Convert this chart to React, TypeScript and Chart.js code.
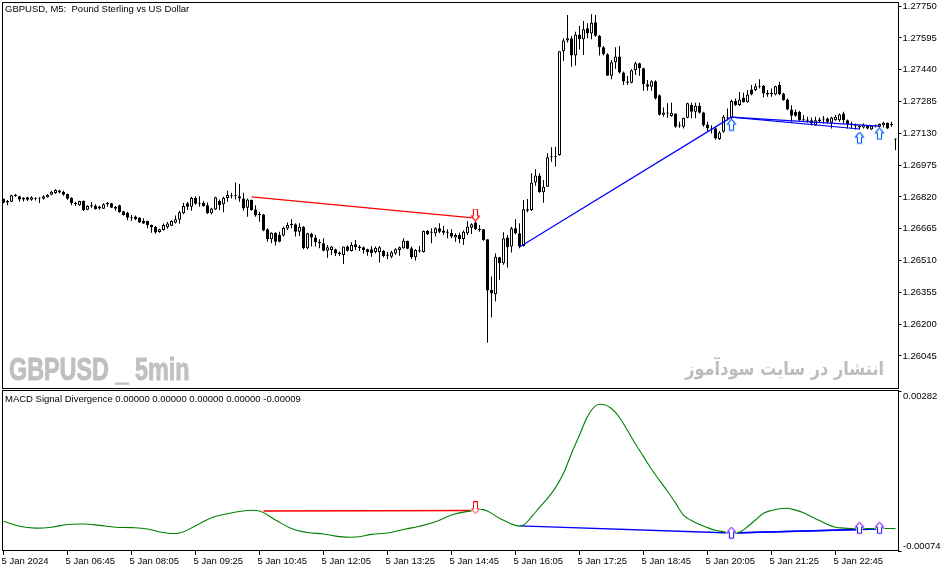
import React, { useEffect, useRef } from "react";
import { Chart, registerables } from "chart.js";

Chart.register(...registerables);

// Prices are quoted in points (1 point = 0.00001)
const opens = [
126811,126800,126797,126823,126823,126815,126818,126806,126815,126815,
126811,126819,126831,126839,126852,126845,126834,126815,126792,126779,
126802,126758,126780,126777,126774,126763,126790,126789,126772,126779,
126750,126743,126724,126725,126719,126704,126703,126683,126675,126649,
126659,126672,126680,126694,126709,126740,126789,126772,126815,126789,
126792,126780,126740,126759,126800,126784,126815,126824,126826,126824,
126813,126767,126805,126759,126733,126735,126662,126614,126646,126635,
126632,126666,126687,126687,126651,126675,126570,126640,126622,126602,
126594,126558,126562,126565,126549,126537,126578,126557,126589,126578,
126575,126565,126565,126552,126552,126557,126539,126529,126545,126562,
126570,126606,126570,126526,126560,126552,126654,126648,126643,126667,
126656,126651,126646,126623,126635,126615,126643,126670,126695,126662,126662,
126614,126367,126346,126526,126497,126623,126578,126667,126643,
126581,126760,126757,126891,126924,126843,126870,127016,127016,127025,
127530,127582,127593,127509,127612,127588,127642,127617,127671,127606,
127549,127515,127411,127476,127504,127427,127383,127377,127439,127471,127447,
127369,127357,127384,127316,127220,127232,127215,127227,127170,
127162,127206,127268,127235,127264,127232,127173,127154,127154,127102,
127138,127206,127206,127287,127268,127303,127282,127344,127341,127362,
127362,127328,127328,127319,127365,127324,127295,127246,127235,127235,
127199,127198,127194,127170,127198,127202,127202,127181,127194,127194,
127227,127194,127178,127170,127159,127159,127167,127149,127168,127162,
127170,127181,127175,127105,
];
const closes = [
126792,126793,126828,126831,126808,126808,126806,126818,126811,126813,
126824,126831,126845,126854,126842,126831,126811,126789,126785,126800,
126756,126777,126774,126761,126764,126785,126784,126767,126763,126746,
126732,126719,126719,126712,126696,126691,126683,126672,126647,126662,
126683,126691,126703,126711,126745,126776,126772,126815,126787,126787,
126776,126740,126764,126818,126780,126816,126829,126828,126824,126813,
126764,126808,126756,126729,126732,126656,126614,126646,126602,126602,
126670,126683,126683,126651,126675,126571,126643,126623,126599,126594,
126558,126575,126578,126545,126542,126578,126558,126586,126575,126570,
126562,126552,126547,126573,126575,126532,126534,126550,126565,126575,
126606,126568,126526,126562,126554,126654,126638,126645,126667,126651,
126646,126646,126627,126635,126615,126651,126675,126687,126662,126659,126610,
126364,126349,126529,126497,126619,126575,126667,126643,126578,
126760,126753,126891,126924,126843,126870,127013,127013,127013,127530,
127582,127593,127509,127612,127588,127637,127617,127669,127606,127549,
127515,127411,127476,127504,127427,127382,127377,127437,127471,127447,127369,
127357,127384,127300,127220,127232,127227,127230,127162,127165,
127206,127276,127235,127264,127230,127170,127154,127149,127105,127134,
127211,127204,127287,127268,127295,127282,127319,127319,127360,127357,
127324,127319,127321,127360,127321,127292,127246,127216,127216,127194,
127194,127191,127178,127194,127190,127198,127186,127207,127211,127222,
127194,127175,127170,127165,127167,127173,127154,127167,127165,127175,
127181,127154,127170,127100,
];
const highs = [
126813,126805,126831,126834,126826,126818,126821,126823,126818,126818,
126828,126834,126850,126858,126855,126850,126837,126818,126797,126802,
126803,126780,126795,126784,126777,126789,126795,126792,126776,126782,
126753,126748,126732,126729,126722,126716,126704,126686,126678,126665,
126691,126698,126706,126730,126753,126792,126795,126821,126824,126824,
126800,126793,126767,126821,126808,126821,126850,126841,126891,126883,
126841,126813,126808,126780,126748,126737,126667,126648,126648,126651,
126675,126695,126711,126692,126692,126679,126646,126646,126635,126614,
126619,126586,126581,126568,126554,126578,126583,126599,126610,126586,
126578,126567,126581,126578,126581,126562,126552,126558,126570,126578,
126619,126607,126578,126565,126581,126656,126659,126667,126672,126692,
126679,126662,126662,126643,126646,126656,126703,126692,126700,126683,126664,
126614,126432,126545,126529,126648,126635,126675,126711,126692,
126805,126810,126935,126955,126935,126903,127033,127062,127065,127530,
127593,127707,127604,127625,127653,127677,127666,127710,127707,127609,
127556,127520,127487,127549,127556,127431,127409,127442,127479,127474,127450,
127390,127389,127389,127319,127256,127276,127280,127227,127186,
127206,127279,127279,127279,127279,127235,127186,127170,127162,127141,
127219,127251,127295,127300,127332,127328,127341,127365,127373,127393,
127365,127341,127349,127362,127381,127328,127300,127267,127246,127240,
127219,127211,127207,127211,127207,127214,127207,127211,127219,127227,
127235,127198,127186,127178,127170,127178,127170,127170,127173,127178,
127186,127183,127186,127105,
];
const lows = [
126789,126780,126795,126821,126797,126798,126800,126802,126803,126790,
126808,126816,126828,126836,126837,126826,126806,126780,126776,126777,
126751,126756,126767,126758,126758,126761,126772,126766,126753,126743,
126729,126707,126704,126707,126693,126688,126667,126646,126641,126646,
126655,126665,126678,126691,126690,126737,126757,126753,126782,126772,
126772,126737,126735,126756,126756,126745,126797,126813,126808,126797,
126753,126724,126753,126724,126699,126653,126602,126594,126583,126599,
126627,126659,126667,126627,126630,126565,126565,126578,126578,126570,
126555,126524,126537,126532,126532,126493,126554,126554,126562,126557,
126545,126534,126529,126545,126500,126526,126516,126521,126537,126534,
126567,126565,126518,126510,126549,126549,126635,126594,126627,126643,
126635,126619,126619,126602,126594,126586,126635,126640,126659,126651,126606,
126110,126232,126310,126416,126489,126476,126549,126638,126570,
126578,126745,126752,126875,126841,126792,126870,126992,126968,127021,
127484,127573,127455,127460,127539,127512,127593,127588,127601,127509,
127509,127411,127393,127445,127422,127366,127366,127374,127414,127411,127338,
127337,127337,127295,127217,127211,127206,127211,127157,127157,
127154,127203,127203,127203,127227,127162,127138,127129,127100,127097,
127133,127194,127194,127263,127263,127279,127279,127316,127336,127349,
127305,127308,127308,127316,127316,127289,127243,127186,127211,127191,
127186,127181,127170,127167,127181,127178,127178,127154,127191,127186,
127178,127154,127154,127149,127149,127154,127149,127146,127159,127159,
127159,127151,127162,127048,
];

// MACD main line, in points, read at these bars
const macdBars = [0,4,8,12,16,20,24,28,32,36,40,44,48,52,56,60,64,68,72,76,80,84,88,92,96,100,104,108,112,116,120,124,128,130,132,134,136,138,140,142,144,146,148,150,152,154,156,158,160,162,164,166,168,170,172,174,176,178,180,182,184,186,188,190,192,194,196,198,200,202,204,206,208,210,212,216,220,223];
const macdValues = [-8,-19,-23,-21,-15,-14,-17,-21,-22,-25,-33,-34,-18,0,9,15,15,-5,-24,-33,-36,-42,-43,-37,-34,-26,-19,-9,6,14,18,-1,-17,-16,2,23,43,67,99,143,184,225,249,252,243,223,194,164,136,108,83,59,33,6,-6,-15,-22,-28,-31,-35,-32,-20,-5,10,16,20,21,17,11,2,-6,-15,-21,-23,-24,-24,-24,-24];

const priceTicks = [1.2775,1.27595,1.2744,1.27285,1.2713,1.26975,1.2682,1.26665,1.2651,1.26355,1.262,1.26045];
const macdTicks = [0.00282,-0.00074];
const tickLabels = ["5 Jan 2024","5 Jan 06:45","5 Jan 08:05","5 Jan 09:25","5 Jan 10:45","5 Jan 12:05","5 Jan 13:25","5 Jan 14:45","5 Jan 16:05","5 Jan 17:25","5 Jan 18:45","5 Jan 20:05","5 Jan 21:25","5 Jan 22:45"];

const titleTop = "GBPUSD, M5:  Pound Sterling vs US Dollar";
const titleBottom = "MACD Signal Divergence 0.00000 0.00000 0.00000 0.00000 -0.00009";
const watermarkLeft = "GBPUSD _ 5min";
const watermarkRight = "انتشار در سایت سودآموز";

// [bar, value in points] pairs of each divergence segment
const redPriceLine = [[62,126820],[118,126717]];
const bluePriceLines = [[[129,126576],[182,127209]],[[182,127209],[214,127151]],[[182,127209],[219,127165]]];
const redMacdLine = [[65,15],[118,16]];
const blueMacdLines = [[[129,-18],[182,-34]],[[182,-34],[214,-26]],[[182,-34],[219,-25]]];
const priceDownArrows = [[118,126732]];
const priceUpArrows = [[182,127170],[214,127107],[219,127127]];
const macdDownArrows = [[118,22]];
const macdUpArrows = [[182,-34],[214,-23],[219,-23]];

const categories = opens.map((_, i) => {
  if (i === 0) return "5 Jan 2024";
  const m = 5 * 60 + 25 + i * 5;
  return `5 Jan ${String(Math.floor(m / 60)).padStart(2, "0")}:${String(m % 60).padStart(2, "0")}`;
});

const AXIS_FONT = { family: "Liberation Sans", size: 9.5 };
const INK = "#000000";
const toPrice = (p: number) => p / 1e5;

function makeArrow(up: boolean, stroke: string, head: string, glow: string) {
  const c = document.createElement("canvas");
  c.width = 11;
  c.height = 13;
  const g = c.getContext("2d")!;
  g.translate(0.5, 0.5);
  const shape = () => {
    g.beginPath();
    if (up) {
      g.moveTo(5, 0); g.lineTo(9, 5); g.lineTo(7, 5); g.lineTo(7, 11); g.lineTo(3, 11); g.lineTo(3, 5); g.lineTo(1, 5);
    } else {
      g.moveTo(3, 0); g.lineTo(7, 0); g.lineTo(7, 7); g.lineTo(9, 7); g.lineTo(5, 12); g.lineTo(1, 7); g.lineTo(3, 7);
    }
    g.closePath();
  };
  g.lineWidth = 2.4;
  g.strokeStyle = glow;
  shape();
  g.stroke();
  g.fillStyle = "#ffffff";
  shape();
  g.fill();
  g.lineWidth = 1;
  g.strokeStyle = stroke;
  shape();
  g.stroke();
  g.strokeStyle = head;
  g.beginPath();
  if (up) {
    g.moveTo(1, 5); g.lineTo(5, 0); g.lineTo(9, 5);
  } else {
    g.moveTo(1, 7); g.lineTo(5, 12); g.lineTo(9, 7);
  }
  g.stroke();
  return c;
}

const segment = (pts: number[][], scale: number, color: string, width: number) => ({
  type: "line" as const,
  data: pts.map(([b, v]) => ({ x: categories[b], y: v / scale })),
  borderColor: color,
  borderWidth: width,
  pointRadius: 0,
  tension: 0,
  order: 2,
  clip: false,
});

const arrows = (pts: number[][], scale: number, icon: HTMLCanvasElement) => ({
  type: "line" as const,
  data: pts.map(([b, v]) => ({ x: categories[b], y: v / scale })),
  showLine: false,
  pointStyle: icon,
  pointRadius: 6,
  order: 1,
  clip: false,
});

function xScale(show: boolean) {
  return {
    type: "category" as const,
    offset: true,
    display: show,
    afterBuildTicks: (s: any) => {
      s.ticks = s.ticks.filter((t: any) => t.value % 16 === 0);
    },
    afterFit: (s: any) => {
      if (show) s.height = 21;
      s.paddingLeft = 0;
      s.paddingRight = 0;
    },
    border: { display: false },
    grid: { drawOnChartArea: false, offset: false, tickLength: 4, tickColor: INK, lineWidth: 1 },
    ticks: {
      autoSkip: false,
      maxRotation: 0,
      minRotation: 0,
      align: "start" as const,
      labelOffset: -2,
      padding: 1,
      color: INK,
      font: AXIS_FONT,
      callback: (_: any, i: number) => tickLabels[i],
    },
  };
}

function yScale(min: number, max: number, ticks: number[], showLabels: boolean) {
  return {
    type: "linear" as const,
    position: "right" as const,
    min,
    max,
    afterBuildTicks: (s: any) => {
      s.ticks = ticks.map((value) => ({ value }));
    },
    afterFit: (s: any) => {
      s.width = 53.5;
      s.paddingTop = 0;
      s.paddingBottom = 0;
    },
    border: { display: false },
    grid: { drawOnChartArea: false, tickLength: 4, tickColor: INK, lineWidth: 1 },
    ticks: {
      display: showLabels,
      autoSkip: false,
      padding: 1,
      color: INK,
      font: AXIS_FONT,
      callback: (v: any) => Number(v).toFixed(5),
    },
  };
}

const framePlugin = (rows: [number, number]) => ({
  id: "frame",
  afterDraw(chart: any) {
    const g = chart.ctx;
    g.save();
    g.strokeStyle = INK;
    g.lineWidth = 1;
    g.strokeRect(2.5, rows[0], 896, rows[1] - rows[0]);
    g.restore();
  },
});

function textPlugin(draw: (g: CanvasRenderingContext2D, chart: any) => void, hook = "beforeDatasetsDraw") {
  return { id: "text" + hook, [hook](chart: any) {
    chart.ctx.save();
    draw(chart.ctx, chart);
    chart.ctx.restore();
  } };
}

export default function App() {
  const topRef = useRef<HTMLCanvasElement>(null);
  const botRef = useRef<HTMLCanvasElement>(null);

  useEffect(() => {
    document.body.style.margin = "0";
    document.body.style.background = "#ffffff";

    const candleDatasets = [
      {
        type: "bar" as const,
        data: highs.map((h, i) => [toPrice(lows[i]), toPrice(h)]),
        backgroundColor: INK,
        barThickness: 1,
        grouped: false,
        inflateAmount: 0,
        order: 4,
      },
      {
        type: "bar" as const,
        data: opens.map((o, i) => [toPrice(Math.min(o, closes[i])), toPrice(Math.max(o, closes[i]))]),
        backgroundColor: opens.map((o, i) => (closes[i] > o ? "#ffffff" : INK)),
        borderColor: INK,
        borderWidth: 1,
        borderSkipped: false,
        barThickness: 3,
        minBarLength: 1,
        grouped: false,
        inflateAmount: 0,
        order: 3,
      },
    ];

    const top = new Chart(topRef.current!, {
      type: "bar",
      data: {
        labels: categories,
        datasets: [
          ...candleDatasets,
          segment(redPriceLine, 1e5, "#ff0000", 1.3),
          ...bluePriceLines.map((l) => segment(l, 1e5, "#0000ff", 1.2)),
          arrows(priceDownArrows, 1e5, makeArrow(false, "#ff0000", "#ff0000", "#ffd0d0")),
          arrows(priceUpArrows, 1e5, makeArrow(true, "#0060ff", "#0060ff", "#cfe4ff")),
        ] as any,
      },
      options: {
        responsive: false,
        devicePixelRatio: 1,
        animation: false,
        layout: { autoPadding: false, padding: { left: 1.5, top: 2, bottom: 1, right: 0 } },
        plugins: { legend: { display: false }, tooltip: { enabled: false } },
        scales: {
          x: xScale(false),
          y: yScale(1.25889, 1.27770, priceTicks, true),
        },
      } as any,
      plugins: [
        textPlugin((g) => {
          g.fillStyle = "#c0c0c0";
          g.strokeStyle = "#c0c0c0";
          g.textBaseline = "alphabetic";
          g.save();
          g.translate(9, 380);
          g.scale(0.73, 1);
          g.font = 'bold 32px "Liberation Sans"';
          g.lineWidth = 1;
          g.fillText(watermarkLeft, 0, 0);
          g.strokeText(watermarkLeft, 0, 0);
          g.restore();
          g.save();
          g.translate(884, 375);
          g.scale(0.85, 1);
          g.font = 'bold 19px "DejaVu Sans"';
          g.fillStyle = "#bdbdbd";
          g.direction = "rtl";
          g.textAlign = "right";
          g.fillText(watermarkRight, 0, 0);
          g.restore();
          g.fillStyle = INK;
          g.font = '9.5px "Liberation Sans"';
          g.textBaseline = "middle";
          g.fillText(titleTop, 5, 9.5);
        }),
        framePlugin([2.5, 388.5]),
      ] as any,
    });

    const macdSeries = macdBars.map((b, i) => ({ x: categories[b], y: macdValues[i] / 1e5 }));

    const bottom = new Chart(botRef.current!, {
      type: "bar",
      data: {
        labels: categories,
        datasets: [
          {
            type: "line",
            data: macdSeries,
            borderColor: "#008000",
            borderWidth: 1.1,
            pointRadius: 0,
            tension: 0.4,
            order: 1,
          },
          segment(redMacdLine, 1e5, "#ff0000", 1.4),
          ...blueMacdLines.map((l) => segment(l, 1e5, "#0000ff", 1.4)),
          { ...arrows(macdDownArrows, 1e5, makeArrow(false, "#ff0000", "#ff9090", "#ffffff")), order: 0 },
          { ...arrows(macdUpArrows, 1e5, makeArrow(true, "#2020ff", "#c040ff", "#f4d0ff")), order: 0 },
        ] as any,
      },
      options: {
        responsive: false,
        devicePixelRatio: 1,
        animation: false,
        layout: { autoPadding: false, padding: { left: 1.5, top: 2, bottom: 0, right: 0 } },
        plugins: { legend: { display: false }, tooltip: { enabled: false } },
        scales: {
          x: xScale(true),
          y: yScale(-0.00074, 0.00282, macdTicks, false),
        },
      } as any,
      plugins: [
        textPlugin((g, chart) => {
          g.fillStyle = INK;
          g.font = '9.5px "Liberation Sans"';
          g.textBaseline = "middle";
          g.fillText(titleBottom, 5, 10);
          // first tick label sits under its mark, last one above it
          const s = chart.scales.y;
          g.fillText(Number(macdTicks[0]).toFixed(5), 903, s.getPixelForValue(macdTicks[0]) + 5);
          g.fillText(Number(macdTicks[1]).toFixed(5), 903, s.getPixelForValue(macdTicks[1]) - 5);
        }),
        framePlugin([1.5, 161.5]),
      ] as any,
    });

    return () => {
      top.destroy();
      bottom.destroy();
    };
  }, []);

  return (
    <div style={{ position: "relative", width: 951, height: 572, background: "#fff" }}>
      <canvas ref={topRef} width={951} height={389} style={{ position: "absolute", left: 0, top: 0 }} />
      <canvas ref={botRef} width={951} height={183} style={{ position: "absolute", left: 0, top: 389 }} />
    </div>
  );
}
